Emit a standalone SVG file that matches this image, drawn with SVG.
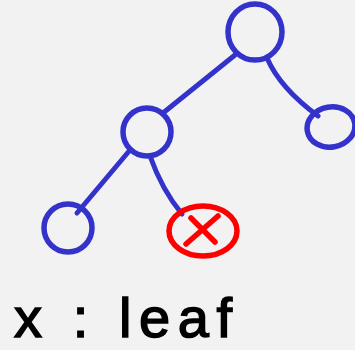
<svg xmlns="http://www.w3.org/2000/svg" width="355" height="350" viewBox="0 0 355 350">
<style>
.n{fill:none;stroke:#3333cc;stroke-width:5.5;stroke-linecap:round}
.e{fill:none;stroke:#3333cc;stroke-width:5;stroke-linecap:round}
.leaf{fill:none;stroke:#ff0000;stroke-width:5.5;stroke-linecap:round}
.lbl{font-family:"Liberation Sans",Arial,sans-serif;font-size:56px;fill:#000;stroke:#000;stroke-width:1.5}
</style>
<rect width="355" height="350" fill="#f2f2f2"/>
<g id="connectors">
<path class="e" d="M235,55 L163,113"/>
<path class="e" d="M267,58 Q280,88 318,116"/>
<path class="e" d="M130,150 L77,213"/>
<path class="e" d="M150,156 Q162,190 182,214"/>
</g>
<g id="root"><ellipse class="n" cx="255" cy="32" rx="27" ry="28"/></g>
<g id="left"><ellipse class="n" cx="147" cy="132" rx="24" ry="24"/></g>
<g id="right"><ellipse class="n" cx="331" cy="127" rx="24" ry="20" transform="rotate(-10 331 127)"/></g>
<g id="leftleft"><ellipse class="n" cx="68" cy="228" rx="24" ry="24"/></g>
<g id="leafnode">
<ellipse class="leaf" cx="203" cy="231" rx="34" ry="25"/>
<line class="leaf" x1="186" y1="244" x2="218" y2="216"/>
<line class="leaf" x1="191" y1="218" x2="215" y2="242"/>
</g>
<text class="lbl" x="14" y="337" textLength="218" lengthAdjust="spacing">x : leaf</text>
</svg>
